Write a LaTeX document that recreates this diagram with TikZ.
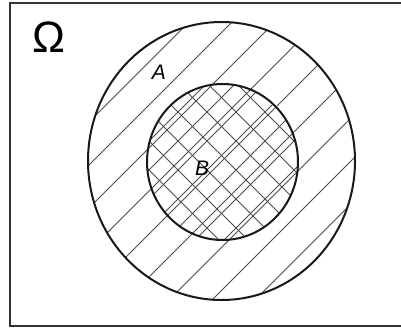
\documentclass[tikz,border=0pt]{standalone}
\usepackage{fontspec}
\setmainfont{Liberation Sans}
\usetikzlibrary{shapes.geometric}
\begin{document}
\begin{tikzpicture}[x=1pt,y=-1pt,
  frame/.style={line width=2.5pt,draw=black!80},
  setline/.style={line width=2pt,draw=black!90},
  hatch/.style={line width=0.8pt,draw=black!70},
  lbl/.style={inner sep=0pt,font=\itshape\fontsize{21}{21}\selectfont}]
\useasboundingbox (0,0) rectangle (401,329);
\fill[white] (0,0) rectangle (401,329);
% frame
\coordinate (tr) at (402,3);
\coordinate (tl) at (10,3);
\coordinate (bl) at (10,326);
\coordinate (br) at (402,326);
\draw[frame] (tr) -- (tl) -- (bl) -- (br);
% hatching in outer ring
\begin{scope}
  \clip (221.5,161) ellipse [x radius=133.5,y radius=139];
  \foreach \c in {168,211,...,700}
    \draw[hatch] (\c-400,400) -- (\c+100,-100);
\end{scope}
% inner cross hatching
\begin{scope}
  \clip (222.5,162) ellipse [x radius=75.5,y radius=78];
  \foreach \c in {290,319,...,500}
    \draw[hatch] (\c-300,300) -- (\c,0);
  \foreach \c in {-50,-21,...,200}
    \draw[hatch] (\c,0) -- (\c+300,300);
\end{scope}
% circles
\node[setline,ellipse,minimum width=267pt,minimum height=278pt,inner sep=0pt] (A) at (221.5,161) {};
\node[setline,ellipse,minimum width=151pt,minimum height=156pt,inner sep=0pt] (B) at (222.5,162) {};
% labels
\node[inner sep=0pt,font=\fontsize{44}{44}\selectfont] (omega) at (49,37) {Ω};
\node[lbl] (la) at (159,72) {A};
\node[lbl] (lb) at (202,168) {B};
\end{tikzpicture}
\end{document}
